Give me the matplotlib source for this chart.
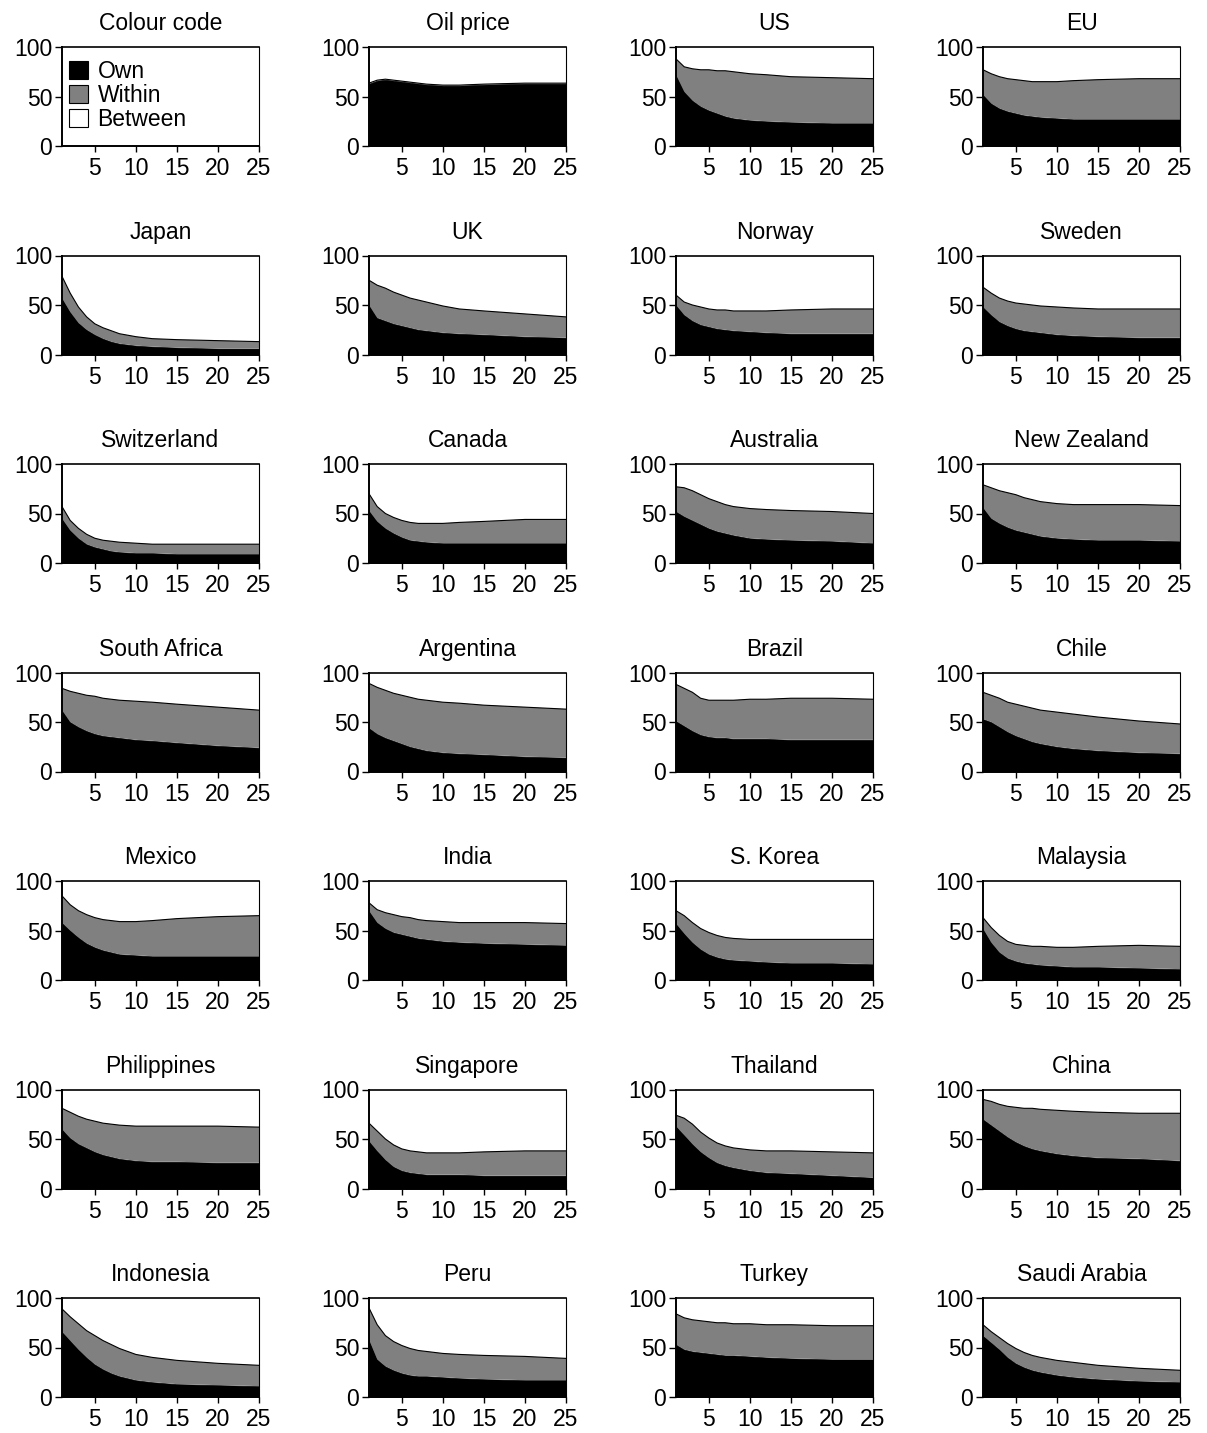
import numpy as np
import matplotlib
matplotlib.use("Agg")
import matplotlib.pyplot as plt
from matplotlib.patches import Patch

plt.rcParams['font.family'] = ['Liberation Sans', 'DejaVu Sans']

# horizon points (quarters) at which values were read
horizon = [1, 2, 3, 4, 5, 6, 7, 8, 10, 12, 15, 20, 25]

titles = ["Oil price", "US", "EU",
          "Japan", "UK", "Norway", "Sweden",
          "Switzerland", "Canada", "Australia", "New Zealand",
          "South Africa", "Argentina", "Brazil", "Chile",
          "Mexico", "India", "S. Korea", "Malaysia",
          "Philippines", "Singapore", "Thailand", "China",
          "Indonesia", "Peru", "Turkey", "Saudi Arabia"]

# share explained by own shocks (black)
own = [
    [63, 66, 67, 66, 65, 64, 63, 62, 61, 61, 62, 63, 63],
    [72, 55, 46, 40, 36, 33, 30, 28, 26, 25, 24, 23, 23],
    [52, 43, 38, 35, 33, 31, 30, 29, 28, 27, 27, 27, 27],
    [57, 43, 32, 25, 20, 16, 13, 11, 9, 8, 7, 6, 6],
    [50, 37, 34, 31, 29, 27, 25, 24, 22, 21, 20, 18, 17],
    [50, 40, 34, 30, 28, 26, 25, 24, 23, 22, 21, 21, 21],
    [48, 40, 33, 29, 26, 24, 23, 22, 20, 19, 18, 17, 17],
    [45, 33, 25, 19, 16, 14, 12, 11, 10, 10, 9, 9, 9],
    [53, 42, 35, 30, 26, 23, 22, 21, 20, 20, 20, 20, 20],
    [52, 47, 43, 39, 35, 32, 30, 28, 25, 24, 23, 22, 20],
    [56, 45, 40, 36, 33, 31, 29, 27, 25, 24, 23, 23, 22],
    [62, 50, 45, 41, 38, 36, 35, 34, 32, 31, 29, 26, 24],
    [44, 38, 34, 31, 28, 25, 23, 21, 19, 18, 17, 15, 14],
    [51, 46, 41, 37, 35, 34, 34, 33, 33, 33, 32, 32, 32],
    [53, 50, 45, 40, 36, 33, 30, 28, 25, 23, 21, 19, 18],
    [58, 50, 43, 37, 33, 30, 28, 26, 25, 24, 24, 24, 24],
    [70, 58, 52, 48, 46, 44, 42, 41, 39, 38, 37, 36, 35],
    [57, 47, 38, 31, 26, 23, 21, 20, 19, 18, 17, 17, 16],
    [52, 38, 28, 22, 19, 17, 16, 15, 14, 13, 13, 12, 11],
    [60, 51, 45, 41, 37, 34, 32, 30, 28, 27, 27, 26, 26],
    [48, 38, 29, 22, 18, 16, 15, 14, 14, 14, 13, 13, 13],
    [63, 54, 45, 37, 31, 26, 23, 21, 18, 16, 15, 13, 11],
    [70, 64, 58, 52, 47, 43, 40, 38, 35, 33, 31, 30, 28],
    [66, 57, 48, 40, 33, 28, 24, 21, 17, 15, 13, 12, 11],
    [58, 38, 31, 27, 24, 22, 21, 21, 20, 19, 18, 17, 17],
    [53, 48, 46, 45, 44, 43, 42, 42, 41, 40, 39, 38, 38],
    [62, 55, 48, 40, 34, 30, 27, 25, 22, 20, 18, 16, 15],
]

# own + within-region shocks (top of grey)
own_within = [
    [63.5, 66.5, 67.5, 66.5, 65.5, 64.5, 63.5, 62.5, 61.5, 61.5, 62.5, 63.5, 63.5],
    [88, 80, 78, 77, 77, 76, 76, 75, 73, 72, 70, 69, 68],
    [77, 73, 70, 68, 67, 66, 65, 65, 65, 66, 67, 68, 68],
    [79, 62, 48, 38, 31, 27, 24, 21, 18, 16, 15, 14, 13],
    [75, 70, 67, 63, 60, 57, 55, 53, 49, 46, 44, 41, 38],
    [60, 53, 50, 48, 46, 45, 45, 44, 44, 44, 45, 46, 46],
    [68, 62, 57, 54, 52, 51, 50, 49, 48, 47, 46, 46, 46],
    [57, 43, 35, 29, 25, 23, 22, 21, 20, 19, 19, 19, 19],
    [70, 57, 50, 46, 43, 41, 40, 40, 40, 41, 42, 44, 44],
    [77, 76, 73, 69, 65, 62, 59, 57, 55, 54, 53, 52, 50],
    [79, 76, 73, 71, 69, 66, 64, 62, 60, 59, 59, 59, 58],
    [84, 81, 79, 77, 76, 74, 73, 72, 71, 70, 68, 65, 62],
    [89, 85, 82, 79, 77, 75, 73, 72, 70, 69, 67, 65, 63],
    [88, 84, 80, 74, 72, 72, 72, 72, 73, 73, 74, 74, 73],
    [80, 77, 74, 70, 68, 66, 64, 62, 60, 58, 55, 51, 48],
    [85, 76, 70, 66, 63, 61, 60, 59, 59, 60, 62, 64, 65],
    [78, 71, 68, 66, 64, 63, 61, 60, 59, 58, 58, 58, 57],
    [70, 65, 58, 52, 48, 45, 43, 42, 41, 41, 41, 41, 41],
    [63, 53, 45, 39, 36, 35, 34, 34, 33, 33, 34, 35, 34],
    [81, 77, 73, 70, 68, 66, 65, 64, 63, 63, 63, 63, 62],
    [66, 58, 50, 44, 40, 38, 37, 36, 36, 36, 37, 38, 38],
    [74, 71, 65, 57, 51, 46, 43, 41, 39, 38, 38, 37, 36],
    [90, 88, 85, 83, 82, 81, 81, 80, 79, 78, 77, 76, 76],
    [89, 81, 74, 67, 62, 57, 53, 49, 43, 40, 37, 34, 32],
    [90, 73, 62, 56, 52, 49, 47, 46, 44, 43, 42, 41, 39],
    [84, 80, 78, 77, 76, 75, 75, 74, 74, 73, 73, 72, 72],
    [73, 66, 60, 54, 49, 45, 42, 40, 37, 35, 32, 29, 27],
]

legend_labels = ["Own", "Within", "Between"]
xticks = [5, 10, 15, 20, 25]
yticks = [0, 50, 100]

W, H = 1207, 1433
fig = plt.figure(figsize=(W / 100, H / 100), dpi=100)

col_left = [62, 369, 676, 983]
ax_w, ax_h = 197, 99
row_top0, row_step = 47, 208.5
FS = 16.5


def make_axes(r, c):
    top = row_top0 + r * row_step
    ax = fig.add_axes([col_left[c] / W, 1 - (top + ax_h) / H, ax_w / W, ax_h / H])
    ax.set_xlim(1, 25)
    ax.set_ylim(0, 100)
    ax.set_xticks(xticks)
    ax.set_yticks(yticks)
    ax.tick_params(axis='x', labelsize=FS, length=4, width=1.0, direction='out', pad=4)
    ax.tick_params(axis='y', labelsize=FS, length=5, width=1.0, direction='out', pad=2)
    for s in ['left', 'bottom']:
        ax.spines[s].set_linewidth(1.4)
    ax.spines['top'].set_linewidth(1.2)
    ax.spines['right'].set_linewidth(0.8)
    return ax


# legend panel
ax = make_axes(0, 0)
ax.set_title("Colour code", fontsize=FS, pad=12)
handles = [Patch(facecolor=fc, edgecolor='black', linewidth=0.8)
           for fc in ['black', '#808080', 'white']]
ax.legend(handles, legend_labels, loc='upper left', bbox_to_anchor=(0.012, 0.915),
          frameon=False, fontsize=FS,
          handlelength=0.85, handleheight=0.85, handletextpad=0.4,
          labelspacing=0.05, borderaxespad=0.0, borderpad=0.2)

for k, name in enumerate(titles):
    idx = k + 1
    r, c = divmod(idx, 4)
    ax = make_axes(r, c)
    ax.set_title(name, fontsize=FS, pad=12)
    x = np.array(horizon)
    o = np.array(own[k])
    t = np.array(own_within[k])
    ax.fill_between(x, 0, o, facecolor='black', edgecolor='black', linewidth=0.5)
    ax.fill_between(x, o, t, facecolor='#808080', edgecolor='none')
    ax.plot(x, t, color='black', linewidth=0.8)

fig.savefig("out.png", dpi=100)
